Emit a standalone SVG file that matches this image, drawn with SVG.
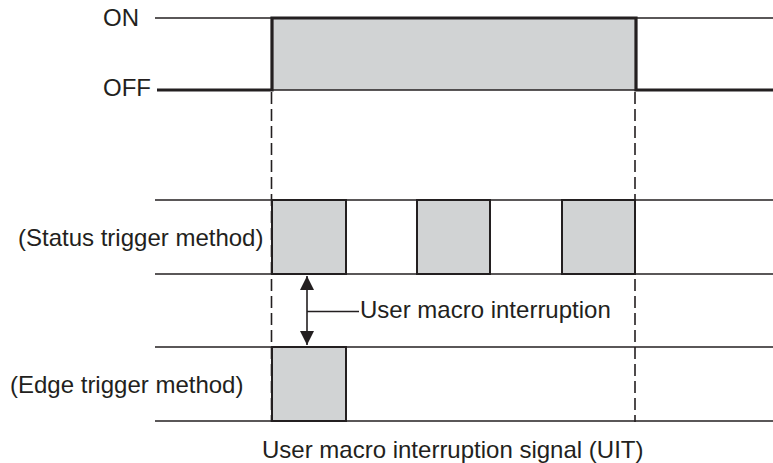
<svg xmlns="http://www.w3.org/2000/svg" width="773" height="463" viewBox="0 0 773 463">
<style>
text{font-family:"Liberation Sans",Arial,sans-serif;font-size:24px;fill:#231f20}
.thin{stroke:#231f20;stroke-width:1.6;fill:none}
.thick{stroke:#231f20;stroke-width:3.2;fill:none}
.box{fill:#d1d3d4;stroke:#231f20;stroke-width:2}
.dash{stroke:#231f20;stroke-width:1.6;fill:none;stroke-dasharray:12 5}
</style>
<defs>
<marker id="ah" viewBox="0 0 10 10" refX="10" refY="5" markerWidth="14" markerHeight="14" markerUnits="userSpaceOnUse" orient="auto-start-reverse">
<path d="M0,0 L10,5 L0,10 Z" fill="#231f20"/>
</marker>
</defs>
<g id="signal">
<rect x="272" y="18" width="364" height="72" fill="#d1d3d4"/>
<line class="thin" x1="155" y1="18" x2="272" y2="18"/>
<line class="thin" x1="636" y1="18" x2="773" y2="18"/>
<line class="thin" x1="272" y1="90" x2="636" y2="90"/>
<polyline class="thick" points="157,90 272,90 272,18 636,18 636,90 773,90"/>
<text x="103" y="26">ON</text>
<text x="103" y="96">OFF</text>
</g>
<g id="status">
<line class="thin" x1="155" y1="200" x2="773" y2="200"/>
<line class="thin" x1="155" y1="274" x2="773" y2="274"/>
<rect class="box" x="272" y="200" width="74" height="74"/>
<rect class="box" x="417" y="200" width="73" height="74"/>
<rect class="box" x="562" y="200" width="73" height="74"/>
<text x="18" y="246">(Status trigger method)</text>
</g>
<g id="edge">
<line class="thin" x1="155" y1="347" x2="773" y2="347"/>
<line class="thin" x1="155" y1="421" x2="773" y2="421"/>
<rect class="box" x="272" y="347" width="74" height="74"/>
<text x="10" y="393">(Edge trigger method)</text>
</g>
<g id="connectors">
<line class="dash" x1="271.5" y1="92" x2="271.5" y2="422"/>
<line class="dash" x1="635" y1="92" x2="635" y2="422"/>
<line class="thin" x1="307" y1="311" x2="307" y2="276" marker-end="url(#ah)"/>
<line class="thin" x1="307" y1="311" x2="307" y2="345" marker-end="url(#ah)"/>
<line class="thin" x1="307" y1="311.5" x2="359" y2="311.5"/>
</g>
<g id="labels">
<text x="360" y="318">User macro interruption</text>
<text x="262" y="458">User macro interruption signal (UIT)</text>
</g>
</svg>
